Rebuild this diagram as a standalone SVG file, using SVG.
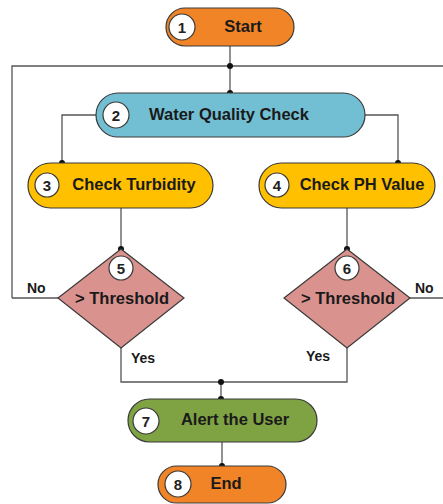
<svg xmlns="http://www.w3.org/2000/svg" width="443" height="504" viewBox="0 0 443 504">
<style>
.n{stroke:#3a3a3a;stroke-width:1.2}
.c{fill:#fff;stroke:#3a3a3a;stroke-width:1.2}
.num{font-family:"Liberation Sans",Arial,sans-serif;font-size:15px;font-weight:bold;fill:#222;text-anchor:middle;dominant-baseline:central}
.t{font-family:"Liberation Sans",Arial,sans-serif;font-size:16.5px;font-weight:bold;fill:#1a1a1a;text-anchor:middle;dominant-baseline:central}
.l{font-family:"Liberation Sans",Arial,sans-serif;font-size:14px;font-weight:bold;fill:#1a1a1a;dominant-baseline:central}
.w{fill:none;stroke:#555;stroke-width:1.3}
.d{fill:#111}
</style>
<rect width="443" height="504" fill="#fff"/>
<g id="connectors">
<path class="w" d="M230,46V93"/>
<path class="w" d="M12,298V66H443"/>
<path class="w" d="M96,115H62V163"/>
<path class="w" d="M365,115H398V163"/>
<path class="w" d="M121,208V249"/>
<path class="w" d="M347,208V249"/>
<path class="w" d="M58,298H12"/>
<path class="w" d="M410,298H443"/>
<path class="w" d="M121,348V382H347V348"/>
<path class="w" d="M221,382V399"/>
<path class="w" d="M222,442V466"/>
<circle class="d" cx="230" cy="66" r="3"/>
<circle class="d" cx="230" cy="93" r="3"/>
<circle class="d" cx="62" cy="163" r="3"/>
<circle class="d" cx="398" cy="163" r="3"/>
<circle class="d" cx="121" cy="249" r="3"/>
<circle class="d" cx="347" cy="249" r="3"/>
<circle class="d" cx="221" cy="382" r="3"/>
<circle class="d" cx="221" cy="399" r="3"/>
<circle class="d" cx="222" cy="466" r="3"/>
<text class="l" x="27" y="288">No</text>
<text class="l" x="415" y="288">No</text>
<text class="l" x="131" y="358">Yes</text>
<text class="l" x="306" y="356">Yes</text>
</g>
<g id="n1">
<rect class="n" x="166" y="8" width="128" height="38" rx="19" fill="#F08426"/>
<circle class="c" cx="182" cy="27" r="13"/>
<text class="num" x="182" y="27">1</text>
<text class="t" x="243" y="26">Start</text>
</g>
<g id="n2">
<rect class="n" x="96" y="93" width="269" height="44" rx="22" fill="#72BFD3"/>
<circle class="c" cx="116" cy="115" r="13"/>
<text class="num" x="116" y="115">2</text>
<text class="t" x="229" y="114">Water Quality Check</text>
</g>
<g id="n3">
<rect class="n" x="28" y="163" width="185" height="45" rx="22.5" fill="#FFC000"/>
<circle class="c" cx="47" cy="185" r="12"/>
<text class="num" x="47" y="185">3</text>
<text class="t" x="134" y="184">Check Turbidity</text>
</g>
<g id="n4">
<rect class="n" x="259" y="163" width="176" height="45" rx="22.5" fill="#FFC000"/>
<circle class="c" cx="277" cy="185" r="12"/>
<text class="num" x="277" y="185">4</text>
<text class="t" x="362" y="184">Check PH Value</text>
</g>
<g id="n5">
<polygon class="n" points="121,249 184,298 121,348 58,298" fill="#DA928E"/>
<circle class="c" cx="121" cy="268" r="12"/>
<text class="num" x="121" y="268">5</text>
<text class="t" x="122" y="298">&gt; Threshold</text>
</g>
<g id="n6">
<polygon class="n" points="347,249 410,298 347,348 284,298" fill="#DA928E"/>
<circle class="c" cx="347" cy="268" r="12"/>
<text class="num" x="347" y="268">6</text>
<text class="t" x="348" y="298">&gt; Threshold</text>
</g>
<g id="n7">
<rect class="n" x="128" y="399" width="189" height="43" rx="21.5" fill="#7FA343"/>
<circle class="c" cx="146" cy="421" r="13"/>
<text class="num" x="146" y="421">7</text>
<text class="t" x="235" y="419">Alert the User</text>
</g>
<g id="n8">
<rect class="n" x="158" y="466" width="128" height="37" rx="18.5" fill="#F08426"/>
<circle class="c" cx="178" cy="484" r="13"/>
<text class="num" x="178" y="484">8</text>
<text class="t" x="226" y="483">End</text>
</g>
</svg>
